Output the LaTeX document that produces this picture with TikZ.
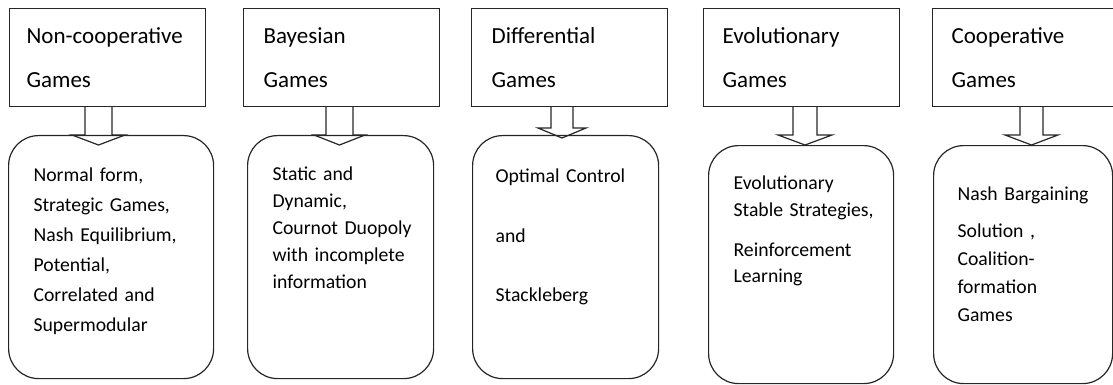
\documentclass[tikz,border=0pt]{standalone}
\usepackage{fontspec}
\setmainfont{Carlito}
\usetikzlibrary{positioning}

\begin{document}
\begin{tikzpicture}[x=0.5pt, y=-0.5pt, line width=0.6pt,
  game/.style={draw=black!85, rectangle, anchor=north west, minimum width=98pt, minimum height=49pt,
    inner xsep=8.5pt, align=left, font=\fontsize{11.5}{22}\selectfont},
  topic/.style={draw=black!85, rectangle, rounded corners=15pt, anchor=north west, inner sep=0pt},
  topictext/.style={anchor=base west, inner sep=0pt, text width=100pt, align=left,
    font=\fontsize{9.85}{#1}\selectfont},
  blockarrow/.style={draw=black!85, line join=miter}]
\useasboundingbox (0,0) rectangle (1113,385);

% game families
\node [game, text width=81pt] (g_1) at (9,8) {\mbox{Non-cooperative}\\Games};
\node [game, text width=78pt] (g_2) at (243,8) {Bayesian\\Games};
\node [game, text width=78pt] (g_3) at (471,8) {Differential\\Games};
\node [game, text width=79pt] (g_4) at (703,8) {Evolutionary\\Games};
\node [game, text width=79pt] (g_5) at (932,8) {Cooperative\\Games};

% detail boxes
\node [topic, minimum width=102.5pt, minimum height=121.5pt] (d_1) at (8,135) {};
\node [topic, minimum width=93pt, minimum height=121.5pt] (d_2) at (247,135) {};
\node [topic, minimum width=93pt, minimum height=121.5pt] (d_3) at (472,135) {};
\node [topic, minimum width=92.5pt, minimum height=119pt] (d_4) at (708,145) {};
\node [topic, minimum width=89.5pt, minimum height=119pt] (d_5) at (933,145) {};

\node [topictext=15pt] (l_1) at (33,181)
  {Normal form,\\Strategic Games,\\Nash Equilibrium,\\Potential,\\Correlated and\\Supermodular};
\node [topictext=13.6pt] (l_2) at (272,180)
  {Static and\\Dynamic,\\Cournot Duopoly\\with incomplete\\information};
\node [topictext=29.5pt] (l_3) at (495,183)
  {Optimal Control\\and\\Stackleberg};
\node [topictext=13.5pt] (l_4) at (733,189)
  {Evolutionary\\Stable Strategies,\\[6.5pt]Reinforcement\\Learning};
\node [topictext=14pt] (l_5) at (957,200)
  {Nash Bargaining\\[4.5pt]Solution ,\\Coalition-\\formation\\Games};

% block arrows
\draw [blockarrow] (85,0 |- g_1.south) -- (85,135) -- (72,135) -- (98.5,145)
  -- (125,135) -- (112,135) -- (112,0 |- g_1.south);
\draw [blockarrow] (326,0 |- g_2.south) -- (326,135) -- (314,135) -- (339.5,145)
  -- (365,135) -- (353,135) -- (353,0 |- g_2.south);
\draw [blockarrow] (551,0 |- g_3.south) -- (551,128) -- (538,128) -- (562,138)
  -- (586,128) -- (573,128) -- (573,0 |- g_3.south);
\draw [blockarrow] (793,0 |- g_4.south) -- (793,135) -- (778,135) -- (805,145)
  -- (832,135) -- (817,135) -- (817,0 |- g_4.south);
\draw [blockarrow] (1020,0 |- g_5.south) -- (1020,135) -- (1005,135) -- (1031.5,145)
  -- (1058,135) -- (1043,135) -- (1043,0 |- g_5.south);
\end{tikzpicture}
\end{document}
